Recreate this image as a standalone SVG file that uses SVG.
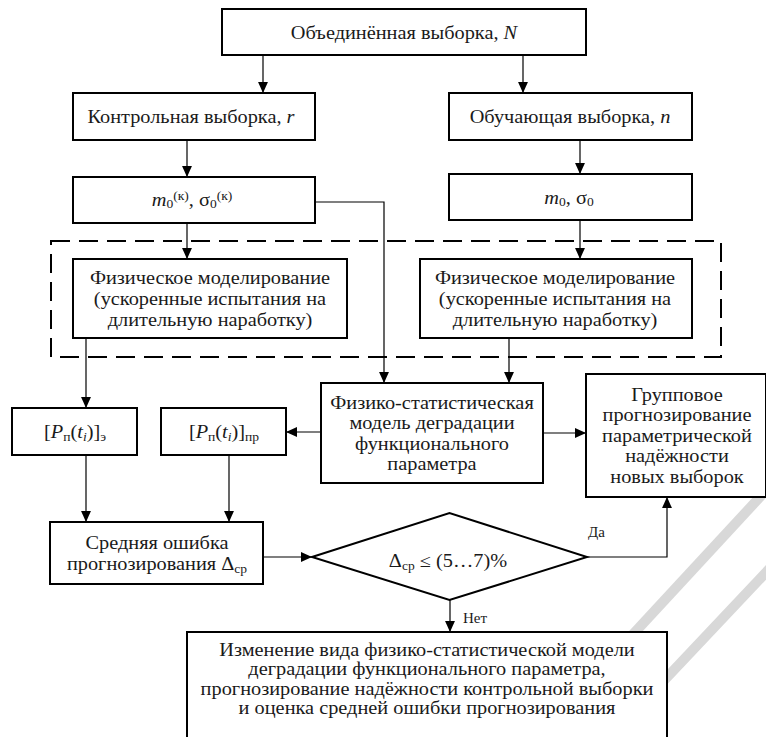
<svg xmlns="http://www.w3.org/2000/svg" width="766" height="737" viewBox="0 0 766 737">
<defs>
<style>
.box{fill:#fff;stroke:#000;stroke-width:2}
.ln{fill:none;stroke:#000;stroke-width:1.2}
.dash{fill:none;stroke:#000;stroke-width:2;stroke-dasharray:19 9}
text{font-family:"Liberation Serif","Noto Serif",Tinos,"Times New Roman",Times,"DejaVu Serif",serif}
.t{font-size:18px;fill:#1a1a1a;text-anchor:middle}
.s{font-size:12px}
.i{font-style:italic}
.lbl{font-size:15px;fill:#1a1a1a}
.wm{fill:none;stroke:#d8d8d8;stroke-width:10}
</style>
<marker id="ah" viewBox="0 0 10 10" refX="10" refY="5" markerWidth="11" markerHeight="11" markerUnits="userSpaceOnUse" orient="auto">
<path d="M0,0.5 L10,5 L0,9.5 z" fill="#000"/>
</marker>
</defs>
<rect width="766" height="737" fill="#fff"/>

<g id="watermark">
<line class="wm" x1="624" y1="644" x2="772" y2="484"/>
<line class="wm" x1="606" y1="742" x2="772" y2="566"/>
</g>

<g id="group-dashed">
<rect class="dash" x="51" y="241" width="670" height="116"/>
</g>

<g id="connectors">
<line class="ln" x1="263" y1="55" x2="263" y2="93" marker-end="url(#ah)"/>
<line class="ln" x1="523" y1="55" x2="523" y2="93" marker-end="url(#ah)"/>
<line class="ln" x1="187" y1="140" x2="187" y2="177" marker-end="url(#ah)"/>
<line class="ln" x1="580" y1="140" x2="580" y2="174" marker-end="url(#ah)"/>
<line class="ln" x1="187" y1="223" x2="187" y2="259" marker-end="url(#ah)"/>
<line class="ln" x1="580" y1="220" x2="580" y2="259" marker-end="url(#ah)"/>
<polyline class="ln" points="315,202 384,202 384,383" marker-end="url(#ah)"/>
<line class="ln" x1="86" y1="338" x2="86" y2="408" marker-end="url(#ah)"/>
<line class="ln" x1="509" y1="338" x2="509" y2="383" marker-end="url(#ah)"/>
<line class="ln" x1="321" y1="432" x2="286" y2="432" marker-end="url(#ah)"/>
<line class="ln" x1="543" y1="433" x2="586" y2="433" marker-end="url(#ah)"/>
<line class="ln" x1="86" y1="455" x2="86" y2="522" marker-end="url(#ah)"/>
<line class="ln" x1="229" y1="455" x2="229" y2="522" marker-end="url(#ah)"/>
<line class="ln" x1="263" y1="557" x2="312" y2="557" marker-end="url(#ah)"/>
<polyline class="ln" points="587,557 667,557 667,497" marker-end="url(#ah)"/>
<line class="ln" x1="450" y1="600" x2="450" y2="632" marker-end="url(#ah)"/>
<text class="lbl" x="588" y="537">Да</text>
<text class="lbl" x="463" y="623" font-size="14">Нет</text>
</g>

<g id="n-combined">
<rect class="box" x="222" y="9" width="364" height="46"/>
<text class="t" transform="translate(404,38.5) scale(1.13,1)">Объединённая выборка, <tspan class="i">N</tspan></text>
</g>

<g id="n-control">
<rect class="box" x="73" y="93" width="242" height="47"/>
<text class="t" transform="translate(191,122.5) scale(1.13,1)">Контрольная выборка, <tspan class="i">r</tspan></text>
</g>

<g id="n-training">
<rect class="box" x="449" y="93" width="243" height="47"/>
<text class="t" transform="translate(570,122.5) scale(1.13,1)">Обучающая выборка, <tspan class="i">n</tspan></text>
</g>

<g id="n-m0k">
<rect class="box" x="73" y="177" width="242" height="46"/>
<text class="t" transform="translate(192,206) scale(1.13,1)"><tspan class="i">m</tspan><tspan class="s" dy="2">0</tspan><tspan class="s" dy="-8">(к)</tspan><tspan dy="6">, σ</tspan><tspan class="s" dy="2">0</tspan><tspan class="s" dy="-8">(к)</tspan></text>
</g>

<g id="n-m0">
<rect class="box" x="449" y="174" width="243" height="46"/>
<text class="t" transform="translate(569,204) scale(1.13,1)"><tspan class="i">m</tspan><tspan class="s" dy="2">0</tspan><tspan dy="-2">, σ</tspan><tspan class="s" dy="2">0</tspan></text>
</g>

<g id="n-phys-left">
<rect class="box" x="73" y="259" width="274" height="79"/>
<text class="t" transform="translate(210,284) scale(1.13,1)"><tspan x="0" y="0">Физическое моделирование</tspan><tspan x="0" y="21">(ускоренные испытания на</tspan><tspan x="0" y="42">длительную наработку)</tspan></text>
</g>

<g id="n-phys-right">
<rect class="box" x="420" y="259" width="272" height="79"/>
<text class="t" transform="translate(555,284) scale(1.13,1)"><tspan x="0" y="0">Физическое моделирование</tspan><tspan x="0" y="21">(ускоренные испытания на</tspan><tspan x="0" y="42">длительную наработку)</tspan></text>
</g>

<g id="n-pe">
<rect class="box" x="12" y="408" width="125" height="47"/>
<text class="t" transform="translate(75,438) scale(1.13,1)">[<tspan class="i">P</tspan><tspan class="s" dy="3">п</tspan><tspan dy="-3">(</tspan><tspan class="i">t</tspan><tspan class="s i" dy="3">i</tspan><tspan dy="-3">)]</tspan><tspan class="s" dy="3">э</tspan></text>
</g>

<g id="n-ppr">
<rect class="box" x="161" y="408" width="125" height="47"/>
<text class="t" transform="translate(224,438) scale(1.13,1)">[<tspan class="i">P</tspan><tspan class="s" dy="3">п</tspan><tspan dy="-3">(</tspan><tspan class="i">t</tspan><tspan class="s i" dy="3">i</tspan><tspan dy="-3">)]</tspan><tspan class="s" dy="3">пр</tspan></text>
</g>

<g id="n-model">
<rect class="box" x="321" y="383" width="222" height="100"/>
<text class="t" transform="translate(432,409) scale(1.13,1)"><tspan x="0" y="0">Физико-статистическая</tspan><tspan x="0" y="20.5">модель деградации</tspan><tspan x="0" y="41">функционального</tspan><tspan x="0" y="61.5">параметра</tspan></text>
</g>

<g id="n-group">
<rect class="box" x="586" y="374" width="180" height="123"/>
<text class="t" transform="translate(677,401) scale(1.13,1)"><tspan x="0" y="0">Групповое</tspan><tspan x="0" y="20.5">прогнозирование</tspan><tspan x="0" y="41">параметрической</tspan><tspan x="0" y="61.5">надёжности</tspan><tspan x="0" y="82">новых выборок</tspan></text>
</g>

<g id="n-error">
<rect class="box" x="50" y="522" width="213" height="62"/>
<text class="t" transform="translate(157,549) scale(1.13,1)"><tspan x="0" y="0">Средняя ошибка</tspan><tspan x="0" y="21">прогнозирования Δ</tspan><tspan class="s" dy="3">ср</tspan></text>
</g>

<g id="n-decision">
<polygon class="box" points="312,557 449.5,513 587,557 449.5,600"/>
<text class="t" transform="translate(448,567) scale(1.13,1)">Δ<tspan class="s" dy="3">ср</tspan><tspan dy="-3"> ≤ (5…7)%</tspan></text>
</g>

<g id="n-change">
<rect class="box" x="187" y="632" width="480" height="110"/>
<text class="t" transform="translate(427,656) scale(1.13,1)"><tspan x="0" y="0">Изменение вида физико-статистической модели</tspan><tspan x="0" y="19.5">деградации функционального параметра,</tspan><tspan x="0" y="39">прогнозирование надёжности контрольной выборки</tspan><tspan x="0" y="58.5">и оценка средней ошибки прогнозирования</tspan></text>
</g>
</svg>
